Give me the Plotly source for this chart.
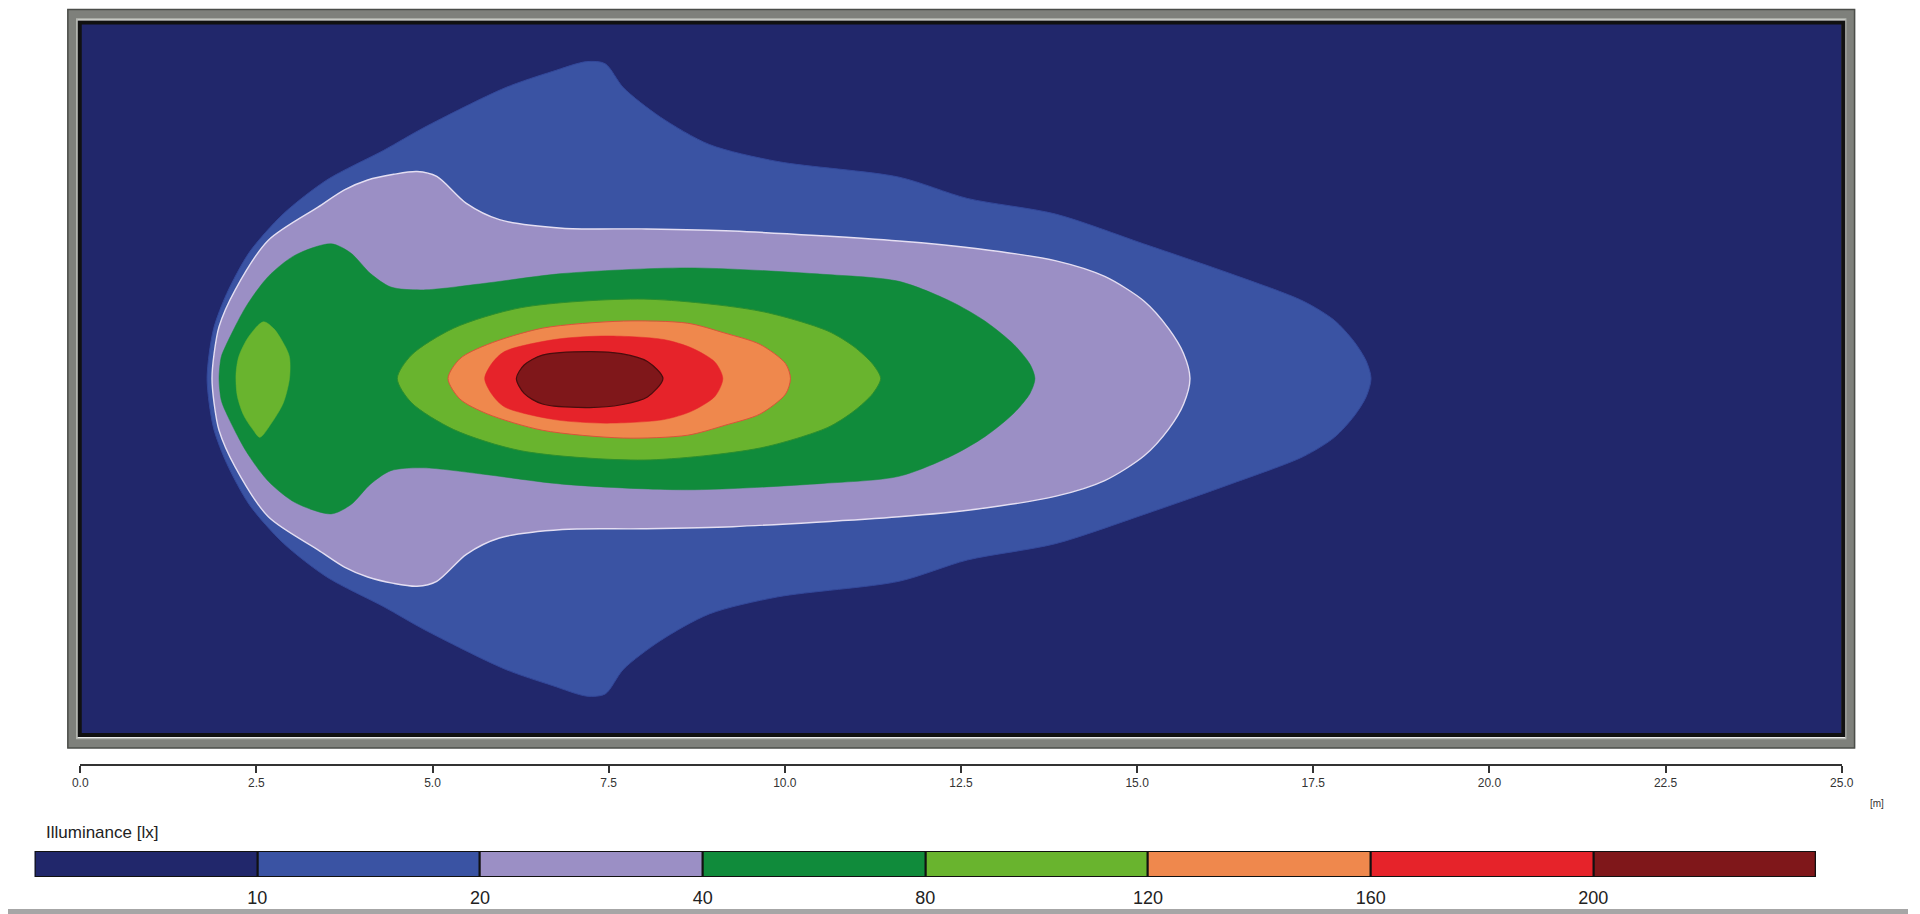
import plotly.graph_objects as go

# ---------------- data (metres) ----------------
# 10 lx isoline (outer edge of medium blue band)
x_10 = [1.80, 1.83, 1.90, 2.08, 2.40, 2.88, 3.50, 4.31, 4.88, 6.03, 6.70, 7.19, 7.45, 7.71, 8.23, 8.93,
        9.90, 11.62, 12.59, 13.84, 15.09, 16.35, 17.36, 17.80, 18.08, 18.25, 18.32,
        18.25, 18.08, 17.80, 17.36, 16.35, 15.09, 13.84, 12.59, 11.62, 9.90, 8.93, 8.23, 7.71, 7.45,
        7.19, 6.70, 6.03, 4.88, 4.31, 3.50, 2.88, 2.40, 2.08, 1.90, 1.83]
y_10 = [0.00, 0.35, 0.73, 1.20, 1.78, 2.32, 2.80, 3.22, 3.54, 4.10, 4.33, 4.47, 4.44, 4.10, 3.69, 3.30,
        3.06, 2.84, 2.54, 2.32, 1.90, 1.47, 1.09, 0.82, 0.52, 0.25, 0.00,
        -0.26, -0.53, -0.83, -1.10, -1.48, -1.92, -2.33, -2.56, -2.86, -3.08, -3.32, -3.70, -4.10, -4.45,
        -4.48, -4.33, -4.10, -3.54, -3.22, -2.80, -2.32, -1.78, -1.20, -0.73, -0.35]

# 20 lx isoline (lavender)
x_20 = [1.87, 1.90, 1.97, 2.20, 2.67, 3.38, 3.75, 4.08, 4.45, 4.78, 5.06, 5.48, 5.95, 6.84, 7.97, 9.26,
        11.62, 12.74, 13.85, 14.54, 15.10, 15.45, 15.66, 15.75,
        15.66, 15.45, 15.10, 14.54, 13.85, 12.74, 11.62, 9.26, 7.97, 6.84, 5.95, 5.48, 5.06, 4.78, 4.45,
        4.08, 3.75, 3.38, 2.67, 2.20, 1.97, 1.90]
y_20 = [0.00, 0.35, 0.73, 1.25, 1.95, 2.42, 2.66, 2.80, 2.88, 2.92, 2.85, 2.47, 2.24, 2.12, 2.11, 2.08,
        1.94, 1.83, 1.66, 1.44, 1.09, 0.70, 0.35, 0.00,
        -0.36, -0.71, -1.09, -1.44, -1.66, -1.84, -1.95, -2.09, -2.12, -2.13, -2.25, -2.48, -2.86, -2.93,
        -2.89, -2.80, -2.66, -2.42, -1.95, -1.25, -0.73, -0.35]

# 40 lx isoline (dark green)
x_40 = [1.97, 2.00, 2.06, 2.35, 2.67, 3.05, 3.56, 3.84, 4.12, 4.41, 4.87, 5.72, 6.84, 8.61, 10.54, 11.62,
        12.35, 12.84, 13.25, 13.48, 13.55,
        13.48, 13.25, 12.84, 12.35, 11.62, 10.54, 8.61, 6.84, 5.72, 4.87, 4.41, 4.12, 3.84, 3.56, 3.05,
        2.67, 2.35, 2.06, 2.00]
y_40 = [0.00, 0.30, 0.45, 1.01, 1.44, 1.74, 1.90, 1.77, 1.48, 1.29, 1.25, 1.34, 1.48, 1.56, 1.47, 1.37,
        1.09, 0.81, 0.48, 0.20, 0.00,
        -0.21, -0.49, -0.82, -1.10, -1.38, -1.48, -1.57, -1.49, -1.35, -1.26, -1.30, -1.49, -1.78, -1.91,
        -1.75, -1.45, -1.02, -0.46, -0.30]

# 80 lx isoline (light green), main ellipse
x_80 = [4.50, 4.70, 5.30, 6.26, 8.00, 9.65, 10.61, 10.98, 11.25, 11.36,
        11.25, 10.98, 10.61, 9.65, 8.00, 6.26, 5.30, 4.70]
y_80 = [0.00, 0.33, 0.71, 1.00, 1.12, 0.95, 0.67, 0.45, 0.20, 0.00,
        -0.21, -0.46, -0.69, -0.98, -1.15, -1.02, -0.72, -0.34]

# 80 lx island near the lamp
x_80b = [2.60, 2.39, 2.25, 2.21, 2.23, 2.32, 2.45, 2.55, 2.70, 2.88, 2.97, 2.97, 2.91, 2.75]
y_80b = [0.80, 0.59, 0.31, 0.05, -0.25, -0.52, -0.72, -0.83, -0.65, -0.35, 0.00, 0.30, 0.45, 0.70]

# 120 lx isoline (orange)
x_120 = [5.22, 5.39, 5.78, 6.56, 7.71, 8.62, 9.15, 9.65, 10.01, 10.08,
         10.01, 9.65, 9.15, 8.62, 7.71, 6.56, 5.78, 5.39]
y_120 = [0.00, 0.28, 0.48, 0.71, 0.81, 0.78, 0.64, 0.48, 0.21, 0.00,
         -0.22, -0.50, -0.66, -0.80, -0.84, -0.73, -0.50, -0.29]

# 160 lx isoline (red)
x_160 = [5.74, 5.84, 6.02, 6.73, 7.47, 8.28, 8.68, 9.01, 9.12,
         9.01, 8.68, 8.28, 7.47, 6.73, 6.02, 5.84]
y_160 = [0.00, 0.21, 0.38, 0.55, 0.60, 0.55, 0.43, 0.23, 0.00,
         -0.25, -0.46, -0.58, -0.63, -0.58, -0.40, -0.22]

# 200 lx isoline (dark red)
x_200 = [6.19, 6.30, 6.56, 7.23, 7.68, 8.05, 8.27,
         8.05, 7.68, 7.23, 6.56, 6.30]
y_200 = [0.00, 0.19, 0.33, 0.38, 0.35, 0.24, 0.00,
         -0.26, -0.37, -0.41, -0.36, -0.21]

# axis ticks
x_ticks = [0.0, 2.5, 5.0, 7.5, 10.0, 12.5, 15.0, 17.5, 20.0, 22.5, 25.0]
x_ticktext = ["0.0", "2.5", "5.0", "7.5", "10.0", "12.5", "15.0", "17.5", "20.0", "22.5", "25.0"]

# legend classes (illuminance bands)
legend_labels = ["10", "20", "40", "80", "120", "160", "200"]
band_colors = ["#21276b", "#3a53a3", "#9b8fc5", "#108b3b", "#69b42e", "#ef884d", "#e6232a", "#7f171a"]

W, H = 1920, 914


def px(X):
    return X / W


def py(Y):
    return 1 - Y / H


fig = go.Figure()

layers = [
    (x_10, y_10, band_colors[1], "#33489a", 1.0),
    (x_20, y_20, band_colors[2], "#e4def2", 1.4),
    (x_40, y_40, band_colors[3], band_colors[3], 0.5),
    (x_80, y_80, band_colors[4], "#2c8f2e", 1.0),
    (x_80b, y_80b, band_colors[4], band_colors[4], 0.5),
    (x_120, y_120, band_colors[5], "#d9533a", 1.0),
    (x_160, y_160, band_colors[6], band_colors[6], 0.5),
    (x_200, y_200, band_colors[7], "#4a0d0d", 1.2),
]
for xs, ys, fc, lc, lw in layers:
    fig.add_trace(go.Scatter(
        x=xs + xs[:1], y=ys + ys[:1], mode="lines", fill="toself",
        fillcolor=fc, line=dict(color=lc, width=lw, shape="spline", smoothing=0.8),
        hoverinfo="skip", showlegend=False, xaxis="x", yaxis="y"))

# colour legend bar
fig.add_trace(go.Bar(
    x=[i + 0.5 for i in range(len(band_colors))], y=[1] * len(band_colors), width=1,
    marker=dict(color=band_colors, line=dict(color="#111111", width=2)),
    hoverinfo="skip", showlegend=False, xaxis="x2", yaxis="y2"))

font_narrow = "Liberation Sans Narrow, Liberation Sans, Arial"

fig.update_layout(
    width=W, height=H,
    margin=dict(l=0, r=0, t=0, b=0),
    paper_bgcolor="white",
    plot_bgcolor=band_colors[0],
    bargap=0,
    xaxis=dict(domain=[px(73), px(1853)], range=[0, 25], anchor="free", position=py(765),
               showgrid=False, zeroline=False, showline=True, linecolor="#333333", linewidth=1.5,
               ticks="outside", ticklen=7, tickcolor="#333333", tickwidth=1.5,
               tickvals=x_ticks, ticktext=x_ticktext,
               tickfont=dict(family=font_narrow, size=12, color="#333333")),
    yaxis=dict(domain=[py(733), py(24)], range=[-5, 5], showgrid=False, zeroline=False,
               showticklabels=False, showline=False, ticks=""),
    xaxis2=dict(domain=[px(27), px(1827)], range=[0, 8], anchor="y2", showgrid=False, zeroline=False,
                showline=False, ticks="", tickvals=[1, 2, 3, 4, 5, 6, 7], ticktext=legend_labels,
                ticklabelstandoff=8,
                tickfont=dict(family=font_narrow, size=18, color="#222222")),
    yaxis2=dict(domain=[py(877), py(851)], range=[0, 1], anchor="x2", showgrid=False, zeroline=False,
                showticklabels=False, showline=False, ticks=""),
)

# frame around the isolux plot
shapes = [
    dict(type="rect", xref="paper", yref="paper", x0=px(65), x1=px(1861.5), y0=py(743), y1=py(14),
         line=dict(color="#7e807b", width=10), layer="above"),
    dict(type="rect", xref="paper", yref="paper", x0=px(60.5), x1=px(1866), y0=py(748), y1=py(9.5),
         line=dict(color="#4b4d49", width=1.5), layer="above"),
    dict(type="rect", xref="paper", yref="paper", x0=px(69.5), x1=px(1857), y0=py(738.5), y1=py(19),
         line=dict(color="#b4b6b0", width=1.5), layer="above"),
    dict(type="rect", xref="paper", yref="paper", x0=px(72.5), x1=px(1854.5), y0=py(735), y1=py(22.5),
         line=dict(color="#111111", width=4), layer="above"),
    dict(type="rect", xref="paper", yref="paper", x0=0, x1=1, y0=py(914), y1=py(909),
         fillcolor="#a6a6a6", line=dict(width=0), layer="above"),
]
fig.update_layout(shapes=shapes)

fig.add_annotation(x=px(36), y=py(832), xref="paper", yref="paper", xanchor="left", yanchor="middle",
                   text="Illuminance [lx]", showarrow=False,
                   font=dict(family="Liberation Sans, Arial", size=17, color="#222222"))
fig.add_annotation(x=px(1880), y=py(803), xref="paper", yref="paper", xanchor="left", yanchor="middle",
                   text="[m]", showarrow=False,
                   font=dict(family=font_narrow, size=10, color="#333333"))

fig.write_html("out.html", config={"displayModeBar": False},
               post_script="document.body.style.margin='0';document.body.style.overflow='hidden';")
